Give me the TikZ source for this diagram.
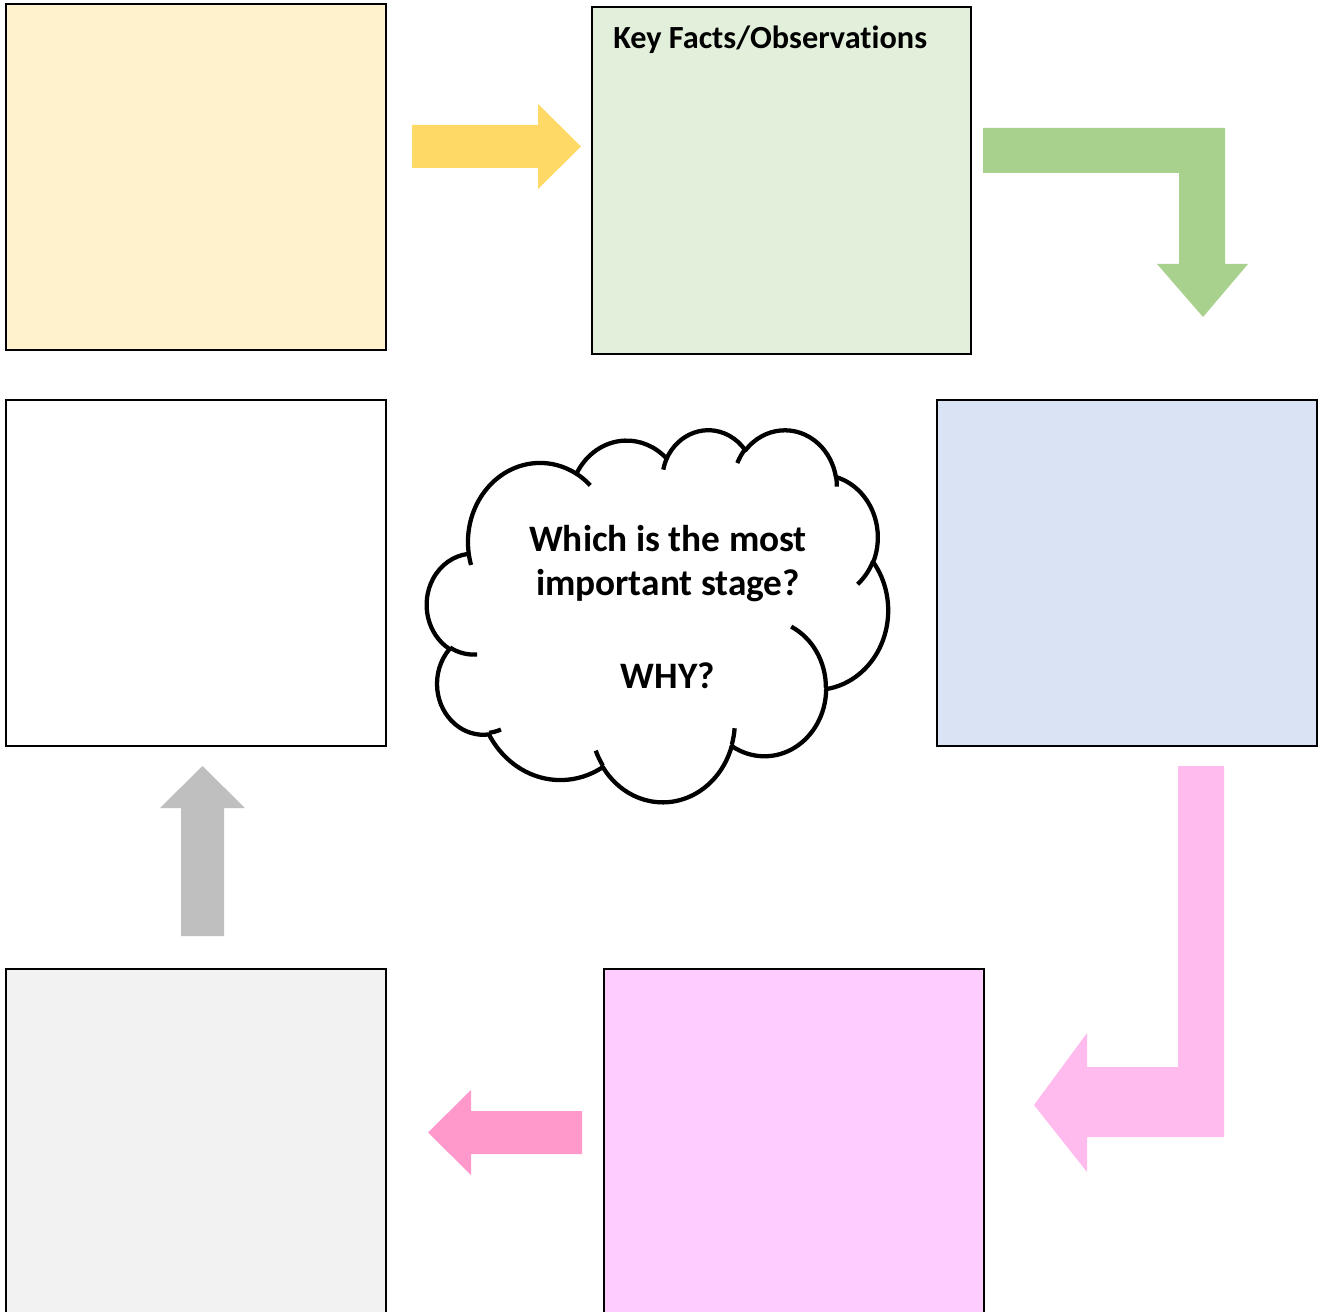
\documentclass[tikz,border=0pt]{standalone}
\usepackage{fontspec}
\setmainfont[Ligatures=NoCommon]{Carlito}
\definecolor{boxyellow}{HTML}{FFF2CC}
\definecolor{boxgreen}{HTML}{E2EFDA}
\definecolor{boxblue}{HTML}{DAE3F3}
\definecolor{boxgrey}{HTML}{F2F2F2}
\definecolor{boxpink}{HTML}{FFCCFF}
\definecolor{arryellow}{HTML}{FFD966}
\definecolor{arrgreen}{HTML}{A9D18E}
\definecolor{arrpink}{HTML}{FFBBEE}
\definecolor{arrgrey}{HTML}{BFBFBF}
\definecolor{arrrose}{HTML}{FF99CC}
\begin{document}
\begin{tikzpicture}[x=0.75pt,y=0.75pt,yscale=-1,
  stagebox/.style={draw=black,line width=1.5pt,rectangle,inner sep=0pt,
    minimum width=285pt,minimum height=259.125pt},
  cloudline/.style={line width=3.2pt,line join=round,draw=black},
  cloudtext/.style={anchor=base,inner sep=0pt,font=\bfseries\fontsize{28}{33}\selectfont},
  declare function={
    pa(\ang,\rx,\ry)=atan2(\rx*sin(\ang),\ry*cos(\ang));
    pd(\ang,\swp,\rx,\ry)=Mod(pa(\ang+\swp,\rx,\ry)-pa(\ang,\rx,\ry),360);
  }]
\useasboundingbox (0,0) rectangle (1323,1312);
\clip (0,0) rectangle (1323,1312);

% stage boxes
\node[stagebox,fill=boxyellow] (yellow) at (195.5,176.75) {};
\node[stagebox,fill=boxgreen,minimum width=284.6pt,minimum height=259.9pt] (green) at (781.75,180.25) {};
\node[stagebox,fill=white] (white) at (195.5,572.75) {};
\node[stagebox,fill=boxblue] (blue) at (1126.75,572.75) {};
\node[stagebox,fill=boxgrey] (grey) at (195.5,1141.75) {};
\node[stagebox,fill=boxpink] (pink) at (794,1141.75) {};

\node[anchor=base west,inner sep=0pt,font=\bfseries\fontsize{24.2}{29}\selectfont] (keyfacts) at (613,49) {Key Facts/Observations};

% block arrows
\fill[arryellow] (412,125) -- (538,125) -- (538,104) -- (581,146.5) -- (538,189) -- (538,168) -- (412,168) -- cycle;
\fill[arrgreen] (983,128) -- (1225,128) -- (1225,264) -- (1248,264) -- (1203,317) -- (1157,264) -- (1179,264) -- (1179,173) -- (983,173) -- cycle;
\fill[arrpink] (1178,766) -- (1224,766) -- (1224,1137) -- (1087,1137) -- (1087,1172) -- (1034,1105) -- (1087,1033) -- (1087,1067) -- (1178,1067) -- cycle;
\fill[arrgrey] (181,936) -- (181,808) -- (160,808) -- (202.5,766) -- (245,808) -- (224,808) -- (224,936) -- cycle;
\fill[arrrose] (582,1111) -- (471,1111) -- (471,1090) -- (428,1132.5) -- (471,1175) -- (471,1154) -- (582,1154) -- cycle;

% cloud (PowerPoint cloud geometry, 43200 units /1000)
\begin{scope}[shift={(427,429)},xscale=461/43.2,yscale=372/43.2]
\draw[cloudline,fill=white] (3.9,14.37)
 arc[x radius=6.753,y radius=9.19,start angle={pa(-190.4875,6.753,9.19)},delta angle={pd(-190.4875,123.7805,6.753,9.19)}]
 arc[x radius=5.333,y radius=7.267,start angle={pa(-144.1024,5.333,7.267)},delta angle={pd(-144.1024,89.9452,5.333,7.267)}]
 arc[x radius=4.365,y radius=5.945,start angle={pa(-145.8079,4.365,5.945)},delta angle={pd(-145.8079,99.7230,4.365,5.945)}]
 arc[x radius=4.857,y radius=6.595,start angle={pa(-130.9861,4.857,6.595)},delta angle={pd(-130.9861,117.2417,4.857,6.595)}]
 arc[x radius=5.333,y radius=7.273,start angle={pa(-78.7089,5.333,7.273)},delta angle={pd(-78.7089,109.0269,5.333,7.273)}]
 arc[x radius=6.775,y radius=9.22,start angle={pa(-46.2673,6.775,9.22)},delta angle={pd(-46.2673,130.2690,6.775,9.22)}]
 arc[x radius=5.785,y radius=7.867,start angle={pa(0.625,5.785,7.867)},delta angle={pd(0.625,114.0333,5.785,7.867)}]
 arc[x radius=6.752,y radius=9.215,start angle={pa(22.4516,6.752,9.215)},delta angle={pd(22.4516,115.1726,6.752,9.215)}]
 arc[x radius=7.72,y radius=10.543,start angle={pa(66.2426,7.72,10.543)},delta angle={pd(66.2426,75.7110,7.72,10.543)}]
 arc[x radius=4.36,y radius=5.918,start angle={pa(-274.9421,4.36,5.918)},delta angle={pd(-274.9421,146.7356,4.36,5.918)}]
 arc[x radius=4.345,y radius=5.945,start angle={pa(-246.8285,4.345,5.945)},delta angle={pd(-246.8285,152.5189,4.345,5.945)}]
 -- cycle;
\draw[cloudline] (4.693,26.177) arc[x radius=4.345,y radius=5.945,start angle={pa(86.742,4.345,5.945)},delta angle={pd(86.742,26.4295,4.345,5.945)}];
\draw[cloudline] (6.928,34.899) arc[x radius=4.36,y radius=5.918,start angle={pa(73.6105,4.36,5.918)},delta angle={pd(73.6105,11.4475,4.36,5.918)}];
\draw[cloudline] (16.478,39.09) arc[x radius=6.752,y radius=9.215,start angle={pa(137.6242,6.752,9.215)},delta angle={pd(137.6242,14.0811,6.752,9.215)}];
\draw[cloudline] (28.827,34.751) arc[x radius=6.752,y radius=9.215,start angle={pa(6.4533,6.752,9.215)},delta angle={pd(6.4533,15.9984,6.752,9.215)}];
\draw[cloudline] (34.129,22.954) arc[x radius=5.785,y radius=7.867,start angle={pa(-70.2924,5.785,7.867)},delta angle={pd(-70.2924,70.9174,5.785,7.867)}];
\draw[cloudline] (41.798,15.354) arc[x radius=5.333,y radius=7.273,start angle={pa(30.318,5.333,7.273)},delta angle={pd(30.318,27.7515,5.333,7.273)}];
\draw[cloudline] (38.324,5.426) arc[x radius=4.857,y radius=6.595,start angle={pa(-13.7443,4.857,6.595)},delta angle={pd(-13.7443,14.8589,4.857,6.595)}];
\draw[cloudline] (29.078,3.952) arc[x radius=4.857,y radius=6.595,start angle={pa(-149.1815,4.857,6.595)},delta angle={pd(-149.1815,18.1954,4.857,6.595)}];
\draw[cloudline] (22.141,4.72) arc[x radius=4.365,y radius=5.945,start angle={pa(-163.4943,4.365,5.945)},delta angle={pd(-163.4943,17.6864,4.365,5.945)}];
\draw[cloudline] (14,5.192) arc[x radius=6.753,y radius=9.19,start angle={pa(-66.707,6.753,9.19)},delta angle={pd(-66.707,12.3194,6.753,9.19)}];
\draw[cloudline] (4.127,15.789) arc[x radius=6.753,y radius=9.19,start angle={pa(157.6544,6.753,9.19)},delta angle={pd(157.6544,11.8582,6.753,9.19)}];
\end{scope}

\node[cloudtext] (q1) at (668,551) {Which is the most};
\node[cloudtext] (q2) at (668,595) {important stage?};
\node[cloudtext] (q3) at (668,688) {WHY?};
\end{tikzpicture}
\end{document}
